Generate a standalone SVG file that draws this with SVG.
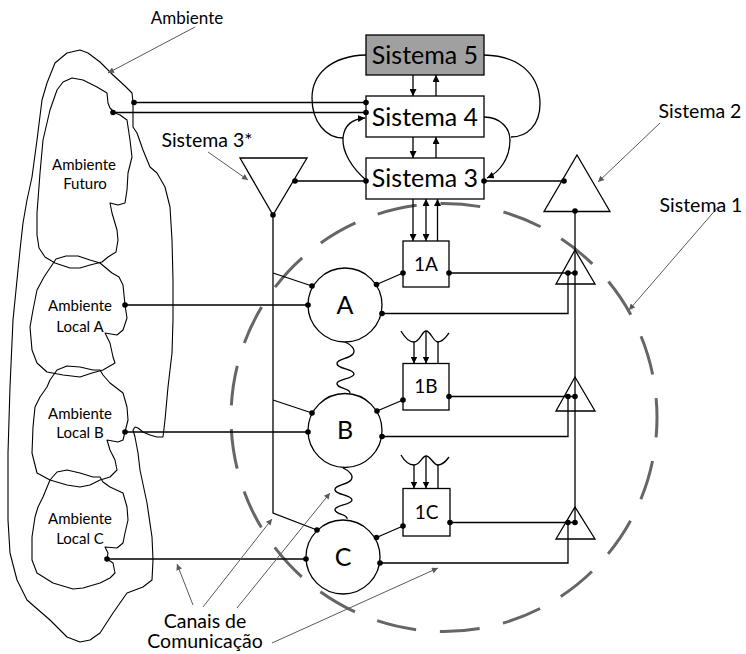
<svg xmlns="http://www.w3.org/2000/svg" width="746" height="654" viewBox="0 0 746 654">
  <style>
    .ln { fill: none; stroke: #000; stroke-width: 1.3; }
    .shape { fill: none; stroke: #000; stroke-width: 1.3; }
    .cloud { fill: none; stroke: #000; stroke-width: 1.1; stroke-linejoin: round; }
    .tri { fill: none; stroke: #000; stroke-width: 1.3; stroke-linejoin: miter; }
    .dot { fill: #000; }
    .lbl { fill: none; stroke: #595959; stroke-width: 1; }
    .zone { fill: none; stroke: #666; stroke-width: 3; stroke-dasharray: 40 23.88; stroke-dashoffset: 20; }
    text { font-family: Lato, "Open Sans", sans-serif; fill: #000; text-anchor: middle; }
    .big { font-size: 25px; }
    .mid { font-size: 19.5px; }
    .unit { font-size: 19px; }
    .sm { font-size: 15px; }
    .node { font-size: 25px; }
  </style>
  <defs>
    <marker id="ah" viewBox="0 0 10 10" refX="10" refY="5" markerWidth="7" markerHeight="7" markerUnits="userSpaceOnUse" orient="auto-start-reverse">
      <path d="M0,0 L10,5 L0,10 Z" fill="#000"/>
    </marker>
    <marker id="ahg" viewBox="0 0 10 10" refX="10" refY="5" markerWidth="9" markerHeight="6" markerUnits="userSpaceOnUse" orient="auto">
      <path d="M0,0 L10,5 L0,10 Z" fill="#595959"/>
    </marker>
  </defs>

  <!-- dashed boundary of Sistema 1 -->
  <ellipse class="zone" cx="444" cy="417.5" rx="213" ry="214"/>

  <!-- environment regions -->
  <g id="ambiente">
    <polygon class="cloud" points="80,50 88,53 100,62 113,75 125,86 132,93 133,102 133,115 133,127 137,133 143,150 150,167 157,173 165,187 170,207 172,240 173,280 173,320 172,353 168,387 165,420 163,437 157,437 150,435 143,432 138,428 135,427 133,430 135,437 138,453 140,470 147,503 152,537 153,560 152,580 143,587 127,593 113,613 100,633 90,640 80,642 67,637 50,620 35,607 27,600 17,580 10,553 8,520 8,453 10,387 13,320 17,280 20,250 23,223 27,200 32,177 37,140 42,100 47,83 55,63 67,53"/>
    <text x="187" y="24" style="font-size:17px">Ambiente</text>
  </g>
  <g id="ambiente-futuro">
    <polygon class="cloud" points="72,78 63,82 57,90 50,110 43,140 40,173 37,213 37,235 39,248 45,257 55,263 70,268 80,268 90,265 102,262 108,257 116,252 118,240 117,230 112,213 110,203 118,205 125,203 127,190 128,173 132,157 130,140 127,120 120,115 115,113 110,108 108,103 107,93 97,87 83,80"/>
    <text class="sm" x="84" y="170">Ambiente</text>
    <text class="sm" x="85" y="189">Futuro</text>
  </g>
  <g id="ambiente-local-a">
    <polygon class="cloud" points="50,268 56,259 66,256 78,256 90,260 100,263 106,268 112,273 119,277 123,285 124,295 125,305 127,318 123,330 117,335 105,333 110,343 113,357 115,363 103,370 92,373 80,377 63,375 47,372 37,363 32,350 30,327 33,310 37,290 44,277"/>
    <text class="sm" x="80" y="311">Ambiente</text>
    <text class="sm" x="80" y="332">Local A</text>
  </g>
  <g id="ambiente-local-b">
    <polygon class="cloud" points="50,380 57,370 67,366 80,367 93,370 100,370 103,375 110,383 123,393 127,407 128,420 125,432 123,440 118,442 107,440 110,450 115,460 117,470 110,477 100,480 90,485 80,487 67,485 50,480 37,473 32,453 33,427 35,407 40,397 47,387"/>
    <text class="sm" x="80" y="419">Ambiente</text>
    <text class="sm" x="80" y="438">Local B</text>
  </g>
  <g id="ambiente-local-c">
    <polygon class="cloud" points="50,480 57,472 67,470 80,473 93,477 100,477 103,482 110,487 123,493 127,507 128,520 125,533 123,543 117,548 105,547 108,553 107,559 113,563 115,573 110,578 100,583 83,588 73,589 53,583 37,573 32,560 32,537 35,517 38,507 43,497"/>
    <text class="sm" x="80" y="524">Ambiente</text>
    <text class="sm" x="80" y="544">Local C</text>
  </g>

  <!-- connectors -->
  <g id="connectors">
    <!-- environment to Sistema 4 -->
    <path class="ln" d="M134,102.5 H366 M113,112.5 H366"/>
    <!-- S5/S4/S3 vertical exchange -->
    <path class="ln" d="M413,75 V96" marker-end="url(#ah)"/>
    <path class="ln" d="M436,96 V75" marker-end="url(#ah)"/>
    <path class="ln" d="M413,137 V158" marker-end="url(#ah)"/>
    <path class="ln" d="M436,158 V137" marker-end="url(#ah)"/>
    <!-- loops around the upper systems -->
    <path class="ln" d="M366,55 C330,56 312,75 312,98 C312,122 326,138 343,138"/>
    <path class="ln" d="M366,180 C352,168 342,152 343,138 C344,126 352,119 365,118" marker-end="url(#ah)"/>
    <path class="ln" d="M484,55 C525,56 540,80 540,104 C540,125 527,137 511,137"/>
    <path class="ln" d="M484,117 C500,117 510,128 510,140 C510,158 500,172 487,178" marker-end="url(#ah)"/>
    <!-- Sistema 3 side links -->
    <path class="ln" d="M295,181 H366 M484,181 H564"/>
    <!-- Sistema 3 to 1A -->
    <path class="ln" d="M413,199 V241" marker-end="url(#ah)"/>
    <path class="ln" d="M426,199 V241" marker-start="url(#ah)" marker-end="url(#ah)"/>
    <path class="ln" d="M437.5,241 V199" marker-end="url(#ah)"/>
    <!-- Sistema 3* trunk -->
    <path class="ln" d="M273,215 V513 L317,530 M273,273 L312,286 M273,400 L312,413"/>
    <!-- environment to A, B, C -->
    <path class="ln" d="M125,305 H308 M125,432 H308 M107,559 H306"/>
    <!-- A, B, C to 1A, 1B, 1C -->
    <path class="ln" d="M376.5,284.5 L403,273 M377,411 L403,400 M376.5,537.5 L403,526"/>
    <!-- 1A, 1B, 1C to the local sensors -->
    <path class="ln" d="M449,273 H575 M449,396.5 H575 M450,522.5 H575"/>
    <!-- sensor returns to A, B, C -->
    <path class="ln" d="M568,273 V313.5 H382 M568,396.5 V436.5 H382 M568,522.5 V563 H380"/>
    <!-- Sistema 2 trunk -->
    <path class="ln" d="M575,211 V523"/>
    <!-- springs between A, B and C -->
    <path class="ln" d="M345,342 C352,345 356,350 353,354 C349,359 336,359 337,364 C338,369 354,369 354,374 C354,379 336,379 337,384 C338,389 350,388 350,393"/>
    <path class="ln" d="M343,468 C350,471 354,476 351,480 C347,485 334,485 335,490 C336,495 352,495 352,500 C352,505 334,505 335,510 C336,515 348,514 347,519"/>
    <!-- inputs to 1B and 1C -->
    <path class="ln" d="M401,331 C405,338 409,342 414,342 C420,342 422,331 426,331 C431,331 433,342 438,342 C443,342 446,337 449,333"/>
    <path class="ln" d="M414,342 V363.5" marker-end="url(#ah)"/>
    <path class="ln" d="M426,331 V363.5" marker-end="url(#ah)"/>
    <path class="ln" d="M438,342 V363.5"/>
    <path class="ln" d="M401,455 C405,462 409,465 414,465 C420,465 422,456 426,456 C431,456 433,465 438,465 C443,465 446,461 449,457"/>
    <path class="ln" d="M414,465 V488.5" marker-end="url(#ah)"/>
    <path class="ln" d="M426,456 V488.5" marker-end="url(#ah)"/>
    <path class="ln" d="M438,465 V488.5"/>
    <!-- junction dots -->
    <g class="dot">
      <circle cx="134" cy="102.5" r="2.8"/><circle cx="113" cy="112.5" r="2.8"/>
      <circle cx="366" cy="102.5" r="2.8"/><circle cx="366" cy="112.5" r="2.8"/>
      <circle cx="366" cy="181" r="2.8"/><circle cx="484" cy="181" r="2.8"/>
      <circle cx="295" cy="181" r="2.8"/><circle cx="273" cy="215" r="2.8"/>
      <circle cx="564" cy="181" r="2.8"/><circle cx="575" cy="211" r="2.8"/>
      <circle cx="125" cy="305" r="2.8"/><circle cx="125" cy="432" r="2.8"/><circle cx="107" cy="559" r="2.8"/>
      <circle cx="308" cy="305" r="2.8"/><circle cx="312" cy="286" r="2.8"/><circle cx="376.5" cy="284.5" r="2.8"/><circle cx="382" cy="313.5" r="2.8"/>
      <circle cx="308" cy="432" r="2.8"/><circle cx="312" cy="413" r="2.8"/><circle cx="377" cy="411" r="2.8"/><circle cx="382" cy="436.5" r="2.8"/>
      <circle cx="306" cy="559" r="2.8"/><circle cx="317" cy="530" r="2.8"/><circle cx="376.5" cy="537.5" r="2.8"/><circle cx="380" cy="563" r="2.8"/>
      <circle cx="403" cy="273" r="2.8"/><circle cx="449" cy="273" r="2.8"/>
      <circle cx="403" cy="400" r="2.8"/><circle cx="449" cy="396.5" r="2.8"/>
      <circle cx="403" cy="526" r="2.8"/><circle cx="450" cy="522.5" r="2.8"/>
      <circle cx="568" cy="273" r="2.8"/><circle cx="575" cy="273" r="2.8"/>
      <circle cx="568" cy="396.5" r="2.8"/><circle cx="575" cy="396.5" r="2.8"/>
      <circle cx="568" cy="522.5" r="2.8"/><circle cx="575" cy="522.5" r="2.8"/>
    </g>
    <!-- label pointers -->
    <path class="lbl" d="M195,27 L108,73" marker-end="url(#ahg)"/>
    <path class="lbl" d="M208,152 L248,180" marker-end="url(#ahg)"/>
    <path class="lbl" d="M660,123 L598,182" marker-end="url(#ahg)"/>
    <path class="lbl" d="M718,207 L629,310" marker-end="url(#ahg)"/>
    <path class="lbl" d="M193,605 L177,564" marker-end="url(#ahg)"/>
    <path class="lbl" d="M203,607 L272,519" marker-end="url(#ahg)"/>
    <path class="lbl" d="M237,608 L330,493" marker-end="url(#ahg)"/>
    <path class="lbl" d="M272,643 L438,568" marker-end="url(#ahg)"/>
  </g>

  <!-- upper systems -->
  <g id="sistema5">
    <rect x="366" y="35" width="118" height="40" fill="#a0a0a0" stroke="#000" stroke-width="1.3"/>
    <text class="big" x="425" y="64">Sistema 5</text>
  </g>
  <g id="sistema4">
    <rect class="shape" x="366" y="96" width="118" height="41"/>
    <text class="big" x="425" y="125.5">Sistema 4</text>
  </g>
  <g id="sistema3">
    <rect class="shape" x="366" y="158" width="118" height="41"/>
    <text class="big" x="425" y="187">Sistema 3</text>
  </g>
  <g id="sistema3-star">
    <polygon class="tri" points="240,158 307,158 273,215"/>
    <text class="mid" x="207" y="147">Sistema 3*</text>
  </g>
  <g id="sistema2">
    <polygon class="tri" points="577,155 610,211.5 544,211.5"/>
    <text class="mid" x="700" y="118">Sistema 2</text>
  </g>
  <g id="sistema1-label">
    <text class="mid" x="701" y="212">Sistema 1</text>
  </g>

  <!-- operational units -->
  <g id="node-a">
    <circle class="ln" cx="345" cy="305" r="37"/>
    <text class="node" x="345" y="313.5">A</text>
  </g>
  <g id="node-b">
    <circle class="ln" cx="345" cy="430.5" r="37"/>
    <text class="node" x="345" y="438.5">B</text>
  </g>
  <g id="node-c">
    <circle class="ln" cx="343" cy="557" r="37"/>
    <text class="node" x="343" y="566">C</text>
  </g>
  <g id="box-1a">
    <rect class="shape" x="403" y="241" width="46" height="46"/>
    <text class="unit" x="426" y="271">1A</text>
  </g>
  <g id="box-1b">
    <rect class="shape" x="403" y="363.5" width="46" height="46.5"/>
    <text class="unit" x="426" y="393">1B</text>
  </g>
  <g id="box-1c">
    <rect class="shape" x="403" y="488.5" width="47" height="47.5"/>
    <text class="unit" x="426.5" y="519">1C</text>
  </g>
  <g id="sensor-a">
    <polygon class="tri" points="575,250 595,284 556,284"/>
  </g>
  <g id="sensor-b">
    <polygon class="tri" points="575,377 595,411 556,411"/>
  </g>
  <g id="sensor-c">
    <polygon class="tri" points="575,507 595,539 556,539"/>
  </g>

  <g id="canais-label">
    <text class="mid" x="205" y="628">Canais de</text>
    <text class="mid" x="205" y="648">Comunicação</text>
  </g>
</svg>
